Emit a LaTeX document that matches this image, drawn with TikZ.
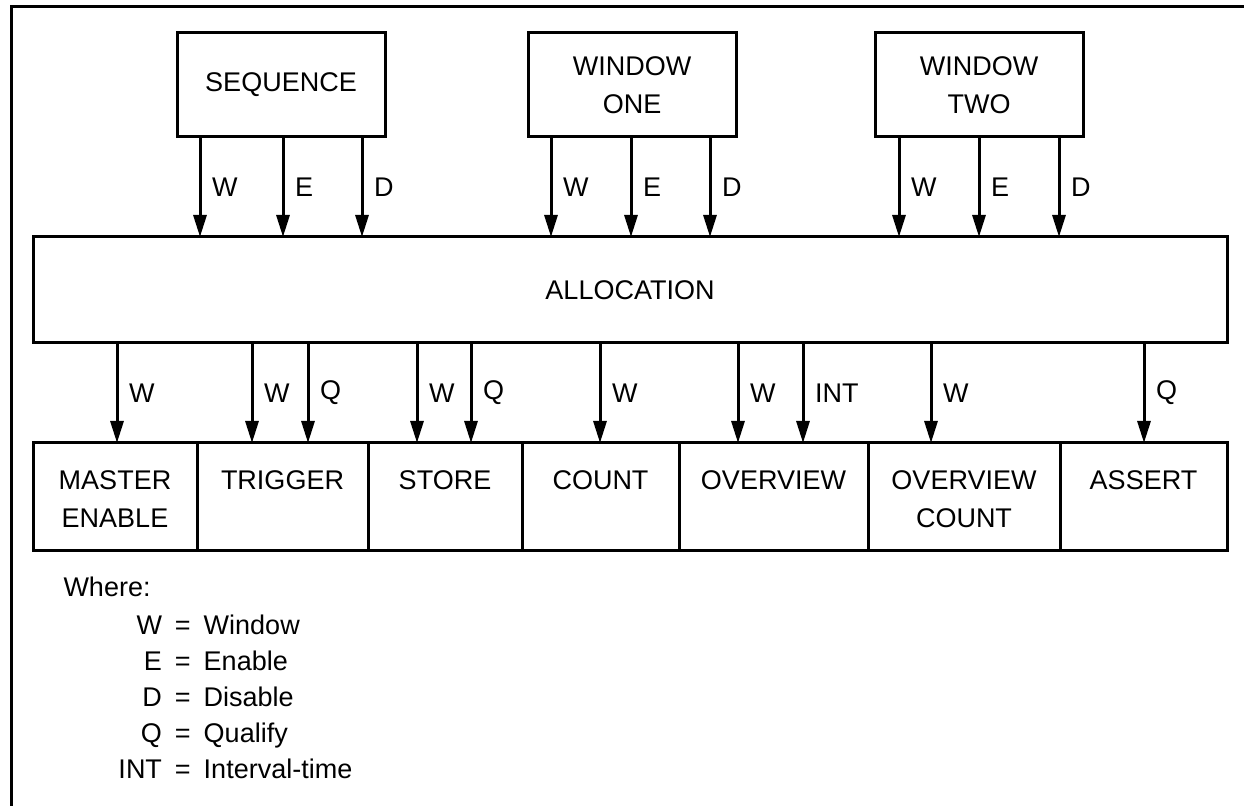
\documentclass[tikz,border=0pt]{standalone}
\usepackage{fontspec}
\setmainfont{Liberation Sans}
\usetikzlibrary{arrows.meta,positioning}

\begin{document}
\begin{tikzpicture}[x=0.5pt,y=-0.5pt,>={Triangle[length=11pt,width=6.5pt]},
  font=\fontsize{13.5}{19}\selectfont,line width=1.5pt,
  box/.style={draw,align=center,inner sep=0pt,outer sep=0pt},
  topbox/.style={box,minimum width=104pt,minimum height=52pt},
  cell/.style={box,minimum height=54pt},
  celltext/.style={align=center,inner sep=0pt},
  sig/.style={->},
  lab/.style={midway,right=2pt}]
  \useasboundingbox (0,0) rectangle (1244,806);
  \draw (11,806) -- (11,7) -- (1244,7);

  % sources
  \node[topbox] (seq) at (281,85) {SEQUENCE};
  \node[topbox] (winone) at (632,85) {WINDOW\\ONE};
  \node[topbox] (wintwo) at (979,85) {WINDOW\\TWO};

  \node[box,minimum width=597pt,minimum height=53pt] (alloc) at (630,290) {ALLOCATION};

  \draw[sig] (seq.south -| 200,0) -- (alloc.north -| 200,0) node[lab] {W};
  \draw[sig] (seq.south -| 283,0) -- (alloc.north -| 283,0) node[lab] {E};
  \draw[sig] (seq.south -| 362,0) -- (alloc.north -| 362,0) node[lab] {D};
  \draw[sig] (winone.south -| 551,0) -- (alloc.north -| 551,0) node[lab] {W};
  \draw[sig] (winone.south -| 631,0) -- (alloc.north -| 631,0) node[lab] {E};
  \draw[sig] (winone.south -| 710,0) -- (alloc.north -| 710,0) node[lab] {D};
  \draw[sig] (wintwo.south -| 899,0) -- (alloc.north -| 899,0) node[lab] {W};
  \draw[sig] (wintwo.south -| 979,0) -- (alloc.north -| 979,0) node[lab] {E};
  \draw[sig] (wintwo.south -| 1059,0) -- (alloc.north -| 1059,0) node[lab] {D};

  % functions
  \node[cell,minimum width=82pt,anchor=north west] (master) at (33,443) {};
  \node[cell,minimum width=85.5pt,right=0pt of master] (trigger) {};
  \node[cell,minimum width=77pt,right=0pt of trigger] (store) {};
  \node[cell,minimum width=78.5pt,right=0pt of store] (count) {};
  \node[cell,minimum width=94.5pt,right=0pt of count] (overview) {};
  \node[cell,minimum width=96pt,right=0pt of overview] (ovcount) {};
  \node[cell,minimum width=83.5pt,right=0pt of ovcount] (assert) {};

  \node[celltext,below=13pt of master.north] (masterT) {MASTER\\ENABLE};
  \node[celltext,below=13pt of trigger.north] (triggerT) {TRIGGER};
  \node[celltext,below=13pt of store.north] (storeT) {STORE};
  \node[celltext,below=13pt of count.north] (countT) {COUNT};
  \node[celltext,below=13pt of overview.north] (overviewT) {OVERVIEW};
  \node[celltext,below=13pt of ovcount.north] (ovcountT) {OVERVIEW\\COUNT};
  \node[celltext,below=13pt of assert.north] (assertT) {ASSERT};

  \draw[sig] (alloc.south -| 117,0) -- (master.north -| 117,0) node[lab] {W};
  \draw[sig] (alloc.south -| 252,0) -- (trigger.north -| 252,0) node[lab] {W};
  \draw[sig] (alloc.south -| 308,0) -- (trigger.north -| 308,0) node[lab] {Q};
  \draw[sig] (alloc.south -| 417,0) -- (store.north -| 417,0) node[lab] {W};
  \draw[sig] (alloc.south -| 471,0) -- (store.north -| 471,0) node[lab] {Q};
  \draw[sig] (alloc.south -| 600,0) -- (count.north -| 600,0) node[lab] {W};
  \draw[sig] (alloc.south -| 738,0) -- (overview.north -| 738,0) node[lab] {W};
  \draw[sig] (alloc.south -| 803,0) -- (overview.north -| 803,0) node[lab] {INT};
  \draw[sig] (alloc.south -| 931,0) -- (ovcount.north -| 931,0) node[lab] {W};
  \draw[sig] (alloc.south -| 1144,0) -- (assert.north -| 1144,0) node[lab] {Q};

  % key
  \node[anchor=base west,inner sep=0pt] (where) at (62,597) {Where:};
  \node[anchor=base west,inner sep=0pt,font=\fontsize{13.5}{18}\selectfont] (key) at (117,635)
    {\begin{tabular}[t]{@{}r@{\hspace{6.5pt}=\hspace{6.5pt}}l@{}}
      W & Window\\
      E & Enable\\
      D & Disable\\
      Q & Qualify\\
      INT & Interval-time
    \end{tabular}};
\end{tikzpicture}
\end{document}
